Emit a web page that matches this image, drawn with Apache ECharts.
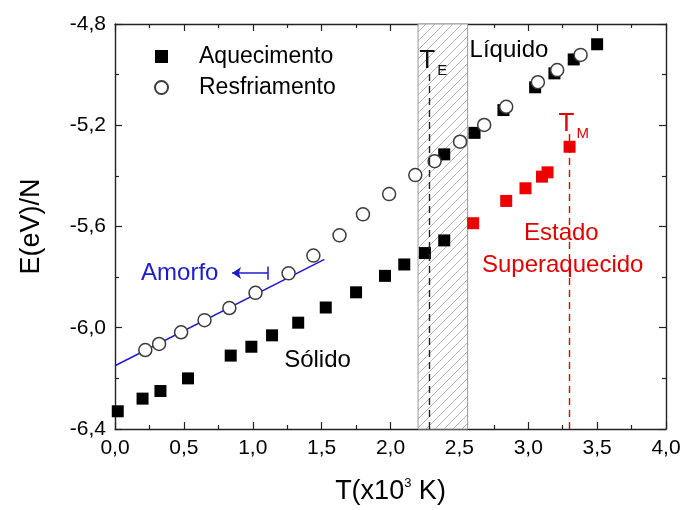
<!DOCTYPE html>
<html>
<head>
<meta charset="utf-8">
<script src="https://cdn.jsdelivr.net/npm/echarts@6/dist/echarts.min.js"></script>
<style>
  html, body { margin: 0; padding: 0; background: #fff; }
  #chart { width: 684px; height: 510px; }
</style>
</head>
<body>
<div id="chart"></div>
<script>
// Heating run (black squares): temperature (x10^3 K) and energy per atom (eV)
const heatingT = [0.02, 0.20, 0.33, 0.53, 0.84, 0.99, 1.14, 1.33, 1.53, 1.75, 1.96, 2.10, 2.25, 2.39, 2.39, 2.61, 2.82, 3.05, 3.19, 3.33, 3.50];
const heatingE = [-6.33, -6.28, -6.25, -6.20, -6.11, -6.075, -6.03, -5.98, -5.92, -5.86, -5.795, -5.75, -5.705, -5.655, -5.315, -5.23, -5.14, -5.05, -4.995, -4.94, -4.88];

// Cooling run (open circles)
const coolingT = [0.22, 0.32, 0.48, 0.65, 0.83, 1.02, 1.26, 1.44, 1.63, 1.80, 1.99, 2.18, 2.32, 2.505, 2.68, 2.84, 3.07, 3.21, 3.38];
const coolingE = [-6.088, -6.064, -6.018, -5.97, -5.922, -5.862, -5.785, -5.715, -5.635, -5.552, -5.472, -5.397, -5.342, -5.265, -5.199, -5.127, -5.03, -4.982, -4.922];

// Superheated solid (red squares)
const superT = [2.60, 2.84, 2.98, 3.10, 3.14, 3.30];
const superE = [-5.587, -5.499, -5.449, -5.403, -5.386, -5.285];

// Linear fit through the amorphous branch
const amorphT = [0.0, 1.52];
const amorphE = [-6.15, -5.73];

// Coexistence band and characteristic temperatures
const bandT = [2.20, 2.56];
const tE = 2.28;
const tM = 3.30;

// Axis ticks
const xTicks = ['0,0', '0,5', '1,0', '1,5', '2,0', '2,5', '3,0', '3,5', '4,0'];
const yTicks = ['-6,4', '-6,0', '-5,6', '-5,2', '-4,8'];
const xMin = 0, xMax = 4, xStep = 0.5;
const yMin = -6.4, yMax = -4.8, yStep = 0.4;

const FONT = '"Liberation Sans", Arial, sans-serif';

// Diagonal hatch used for the coexistence band
function hatchPattern() {
  const s = 9;
  const c = document.createElement('canvas');
  c.width = s; c.height = s;
  const g = c.getContext('2d');
  g.fillStyle = '#ffffff';
  g.fillRect(0, 0, s, s);
  g.strokeStyle = '#b4b4b4';
  g.lineWidth = 1;
  g.beginPath();
  g.moveTo(-1, s + 1); g.lineTo(s + 1, -1);
  g.stroke();
  return c;
}

const pairs = (xs, ys) => xs.map((x, i) => [x, ys[i]]);

const axisLine = { show: true, onZero: false, lineStyle: { color: '#222', width: 1.4 } };
const tick = { show: true, inside: true, length: 7, lineStyle: { color: '#222', width: 1.2 } };
const minor = { show: true, splitNumber: 2, length: 4, lineStyle: { color: '#222', width: 1.2 } };

const annotations = [
  { value: [2.86, -4.905], text: '{b|Líquido}' },
  { value: [1.47, -6.128], text: '{b|Sólido}' },
  { value: [3.24, -5.626], text: '{r|Estado}' },
  { value: [3.25, -5.752], text: '{r|Superaquecido}' },
  { value: [0.47, -5.784], text: '{u|Amorfo}' },
  { value: [2.31, -4.945], text: '{k|T}{ks|E}' },
  { value: [3.33, -5.195], text: '{m|T}{ms|M}' }
];

const chart = echarts.init(document.getElementById('chart'));
chart.setOption({
  animation: false,
  backgroundColor: '#fff',
  textStyle: { fontFamily: FONT },
  grid: { left: 115, right: 18, top: 24, bottom: 81 },
  legend: {
    orient: 'vertical',
    left: 149, top: 40,
    itemWidth: 13, itemHeight: 13, itemGap: 8,
    data: ['Aquecimento', 'Resfriamento'],
    textStyle: { fontFamily: FONT, fontSize: 23, color: '#000', padding: [0, 0, 0, 26] }
  },
  xAxis: [{
    type: 'value', min: xMin, max: xMax, interval: xStep,
    name: '{a|T(x10}{s|3}{a| K)}', nameLocation: 'middle', nameGap: 48,
    nameTextStyle: {
      rich: {
        a: { fontFamily: FONT, fontSize: 27, color: '#000' },
        s: { fontFamily: FONT, fontSize: 13, color: '#000', padding: [0, 0, 16, 0] }
      }
    },
    axisLine, axisTick: tick, minorTick: minor, splitLine: { show: false },
    axisLabel: {
      fontFamily: FONT, fontSize: 21, color: '#000', margin: 9,
      formatter: v => xTicks[Math.round((v - xMin) / xStep)]
    }
  }, {
    type: 'value', min: xMin, max: xMax, interval: xStep, position: 'top',
    axisLine, axisTick: tick, minorTick: minor, splitLine: { show: false },
    axisLabel: { show: false }
  }],
  yAxis: [{
    type: 'value', min: yMin, max: yMax, interval: yStep,
    name: 'E(eV)/N', nameLocation: 'middle', nameGap: 70, nameRotate: 90,
    nameTextStyle: { fontFamily: FONT, fontSize: 27, color: '#000' },
    axisLine, axisTick: tick, minorTick: minor, splitLine: { show: false },
    axisLabel: {
      fontFamily: FONT, fontSize: 21, color: '#000', margin: 9,
      formatter: v => yTicks[Math.round((v - yMin) / yStep)]
    }
  }, {
    type: 'value', min: yMin, max: yMax, interval: yStep, position: 'right',
    axisLine, axisTick: tick, minorTick: minor, splitLine: { show: false },
    axisLabel: { show: false }
  }],
  series: [
    {
      // coexistence band with the two reference temperatures
      name: 'band', type: 'line', data: [], silent: true, z: 1,
      markArea: {
        silent: true,
        itemStyle: { color: { image: hatchPattern(), repeat: 'repeat' }, borderColor: '#999', borderWidth: 1, opacity: 1 },
        data: [[{ xAxis: bandT[0] }, { xAxis: bandT[1] }]]
      },
      markLine: {
        silent: true, symbol: 'none', label: { show: false },
        data: [
          [{ coord: [tE, yMin], lineStyle: { color: '#222', type: [7, 5], width: 1.4 } }, { coord: [tE, -4.99] }],
          [{ coord: [tM, yMin], lineStyle: { color: '#e00000', type: [7, 5], width: 1.4 } }, { coord: [tM, -5.23] }]
        ]
      }
    },
    {
      name: 'Amorfo', type: 'line', data: pairs(amorphT, amorphE), symbol: 'none', z: 2,
      lineStyle: { color: '#1c1ccc', width: 1.5 },
      markLine: {
        silent: true, label: { show: false },
        lineStyle: { color: '#1c1ccc', width: 1.5, type: 'solid' },
        symbolSize: [9, 9],
        data: [
          [{ coord: [1.11, -5.784], symbol: 'none' }, { coord: [0.85, -5.784], symbol: 'arrow' }],
          [{ coord: [1.11, -5.758], symbol: 'none' }, { coord: [1.11, -5.81], symbol: 'none' }]
        ]
      }
    },
    {
      name: 'Aquecimento', type: 'scatter', data: pairs(heatingT, heatingE), z: 3,
      symbol: 'rect', symbolSize: 12,
      itemStyle: { color: '#000', opacity: 1 }
    },
    {
      name: 'Resfriamento', type: 'scatter', data: pairs(coolingT, coolingE), z: 4,
      symbol: 'circle', symbolSize: 13,
      itemStyle: { color: '#fff', borderColor: '#3c3c3c', borderWidth: 1.5, opacity: 1 }
    },
    {
      name: 'Superaquecido', type: 'scatter', data: pairs(superT, superE), z: 3,
      symbol: 'rect', symbolSize: 12,
      itemStyle: { color: '#ee0000', opacity: 1 }
    },
    {
      name: 'labels', type: 'scatter', symbolSize: 0, silent: true, z: 5,
      itemStyle: { opacity: 1 },
      data: annotations.map(a => ({ value: a.value, text: a.text })),
      label: {
        show: true, position: 'inside', opacity: 1,
        formatter: p => p.data.text,
        rich: {
          b: { fontFamily: FONT, fontSize: 24, color: '#000' },
          r: { fontFamily: FONT, fontSize: 24, color: '#e00000' },
          u: { fontFamily: FONT, fontSize: 24, color: '#1c1ccc' },
          k: { fontFamily: FONT, fontSize: 26, color: '#111' },
          ks: { fontFamily: FONT, fontSize: 15, color: '#111', padding: [20, 0, 0, 2] },
          m: { fontFamily: FONT, fontSize: 26, color: '#e00000' },
          ms: { fontFamily: FONT, fontSize: 15, color: '#e00000', padding: [20, 0, 0, 2] }
        }
      }
    }
  ]
});
</script>
</body>
</html>
